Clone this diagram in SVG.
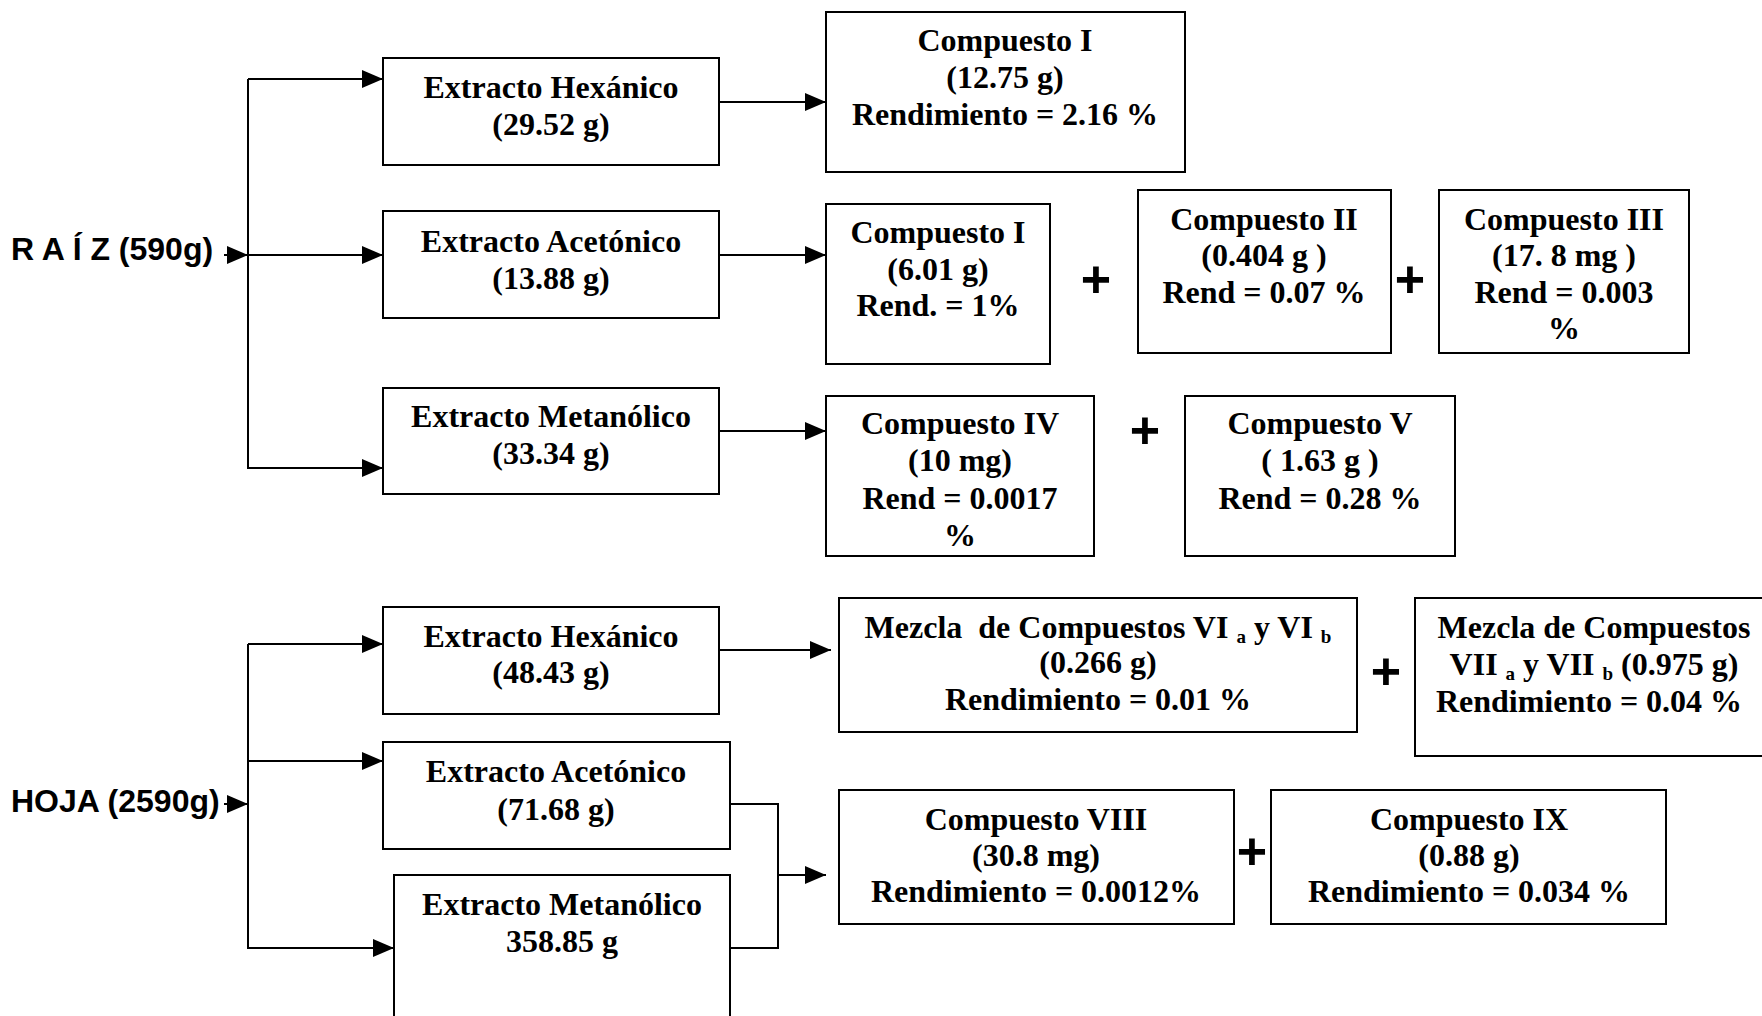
<svg xmlns="http://www.w3.org/2000/svg" width="1762" height="1016" viewBox="0 0 1762 1016">
<style>
.box{fill:#fff;stroke:#000;stroke-width:2}
.t{font-family:"Liberation Serif","Times New Roman",serif;font-weight:bold;font-size:32px;text-anchor:middle;fill:#000}
.s{font-family:"Liberation Sans",Arial,sans-serif;font-weight:bold;font-size:32px;fill:#000;white-space:pre}
.plus{font-family:"Liberation Sans",Arial,sans-serif;font-weight:bold;font-size:52px;text-anchor:middle;fill:#000}
.c{fill:none;stroke:#000;stroke-width:2}
.pre{white-space:pre}
</style>
<defs>
<marker id="ah" markerUnits="userSpaceOnUse" markerWidth="21" markerHeight="18" refX="21" refY="9" orient="auto">
<path d="M0,0 L21,9 L0,18 z" fill="#000"/>
</marker>
</defs>
<rect width="1762" height="1016" fill="#fff"/>

<g id="connectors">
<line class="c" x1="224" y1="255" x2="248" y2="255" marker-end="url(#ah)"/>
<polyline class="c" points="248,79 248,468 383,468" marker-end="url(#ah)"/>
<line class="c" x1="248" y1="79" x2="383" y2="79" marker-end="url(#ah)"/>
<line class="c" x1="248" y1="255" x2="383" y2="255" marker-end="url(#ah)"/>
<line class="c" x1="719" y1="102" x2="826" y2="102" marker-end="url(#ah)"/>
<line class="c" x1="719" y1="255" x2="826" y2="255" marker-end="url(#ah)"/>
<line class="c" x1="719" y1="431" x2="826" y2="431" marker-end="url(#ah)"/>

<line class="c" x1="224" y1="804" x2="248" y2="804" marker-end="url(#ah)"/>
<polyline class="c" points="248,644 248,948 394,948" marker-end="url(#ah)"/>
<line class="c" x1="248" y1="644" x2="383" y2="644" marker-end="url(#ah)"/>
<line class="c" x1="248" y1="761" x2="383" y2="761" marker-end="url(#ah)"/>
<line class="c" x1="719" y1="650" x2="831" y2="650" marker-end="url(#ah)"/>
<polyline class="c" points="730,804 778,804 778,948 730,948"/>
<line class="c" x1="778" y1="875" x2="826" y2="875" marker-end="url(#ah)"/>
</g>

<g id="raiz"><text class="s" x="11" y="260">R A Í Z (590g)</text></g>
<g id="hoja"><text class="s" x="11" y="812">HOJA (2590g)</text></g>

<g id="r-hex"><rect class="box" x="383" y="58" width="336" height="107"/>
<text class="t" x="551" y="98">Extracto Hexánico</text><text class="t" x="551" y="135">(29.52 g)</text></g>
<g id="r-ace"><rect class="box" x="383" y="211" width="336" height="107"/>
<text class="t" x="551" y="252">Extracto Acetónico</text><text class="t" x="551" y="289">(13.88 g)</text></g>
<g id="r-met"><rect class="box" x="383" y="388" width="336" height="106"/>
<text class="t" x="551" y="427">Extracto Metanólico</text><text class="t" x="551" y="464">(33.34 g)</text></g>

<g id="c1a"><rect class="box" x="826" y="12" width="359" height="160"/>
<text class="t" x="1005" y="51">Compuesto I</text><text class="t" x="1005" y="88">(12.75 g)</text><text class="t" x="1005" y="125">Rendimiento = 2.16 %</text></g>

<g id="c1b"><rect class="box" x="826" y="204" width="224" height="160"/>
<text class="t" x="938" y="243">Compuesto I</text><text class="t" x="938" y="280">(6.01 g)</text><text class="t" x="938" y="316">Rend. = 1%</text></g>
<g id="plus1"><text class="plus" x="1096" y="297">+</text></g>
<g id="c2"><rect class="box" x="1138" y="190" width="253" height="163"/>
<text class="t pre" x="1264" y="230">Compuesto II</text><text class="t pre" x="1264" y="266">(0.404 g )</text><text class="t" x="1264" y="303">Rend = 0.07 %</text></g>
<g id="plus2"><text class="plus" x="1410" y="297">+</text></g>
<g id="c3"><rect class="box" x="1439" y="190" width="250" height="163"/>
<text class="t pre" x="1564" y="230">Compuesto III</text><text class="t pre" x="1564" y="266">(17. 8 mg )</text><text class="t" x="1564" y="303">Rend = 0.003</text><text class="t" x="1564" y="339">%</text></g>

<g id="c4"><rect class="box" x="826" y="396" width="268" height="160"/>
<text class="t" x="960" y="434">Compuesto IV</text><text class="t" x="960" y="471">(10 mg)</text><text class="t" x="960" y="509">Rend = 0.0017</text><text class="t" x="960" y="546">%</text></g>
<g id="plus3"><text class="plus" x="1145" y="448">+</text></g>
<g id="c5"><rect class="box" x="1185" y="396" width="270" height="160"/>
<text class="t" x="1320" y="434">Compuesto V</text><text class="t pre" x="1320" y="471">( 1.63 g )</text><text class="t" x="1320" y="509">Rend = 0.28 %</text></g>

<g id="h-hex"><rect class="box" x="383" y="607" width="336" height="107"/>
<text class="t" x="551" y="647">Extracto Hexánico</text><text class="t" x="551" y="683">(48.43 g)</text></g>
<g id="h-ace"><rect class="box" x="383" y="742" width="347" height="107"/>
<text class="t" x="556" y="782">Extracto Acetónico</text><text class="t" x="556" y="820">(71.68 g)</text></g>
<g id="h-met"><rect class="box" x="394" y="875" width="336" height="160"/>
<text class="t" x="562" y="915">Extracto Metanólico</text><text class="t" x="562" y="952">358.85 g</text></g>

<g id="mix6"><rect class="box" x="839" y="598" width="518" height="134"/>
<text class="t pre" x="1098" y="638">Mezcla  de Compuestos VI <tspan font-size="19" dy="5">a</tspan><tspan dy="-5"> y VI </tspan><tspan font-size="19" dy="5">b</tspan></text>
<text class="t" x="1098" y="673">(0.266 g)</text><text class="t" x="1098" y="710">Rendimiento = 0.01 %</text></g>
<g id="plus4"><text class="plus" x="1386" y="689">+</text></g>
<g id="mix7"><rect class="box" x="1415" y="598" width="360" height="158"/>
<text class="t" x="1594" y="638">Mezcla de Compuestos</text>
<text class="t pre" x="1594" y="675">VII <tspan font-size="19" dy="5">a</tspan><tspan dy="-5"> y VII </tspan><tspan font-size="19" dy="5">b</tspan><tspan dy="-5"> (0.975 g)</tspan></text>
<text class="t" x="1589" y="712">Rendimiento = 0.04 %</text></g>

<g id="c8"><rect class="box" x="839" y="790" width="395" height="134"/>
<text class="t" x="1036" y="830">Compuesto VIII</text><text class="t" x="1036" y="866">(30.8 mg)</text><text class="t" x="1036" y="902">Rendimiento = 0.0012%</text></g>
<g id="plus5"><text class="plus" x="1252" y="869">+</text></g>
<g id="c9"><rect class="box" x="1271" y="790" width="395" height="134"/>
<text class="t" x="1469" y="830">Compuesto IX</text><text class="t" x="1469" y="866">(0.88 g)</text><text class="t" x="1469" y="902">Rendimiento = 0.034 %</text></g>
</svg>
